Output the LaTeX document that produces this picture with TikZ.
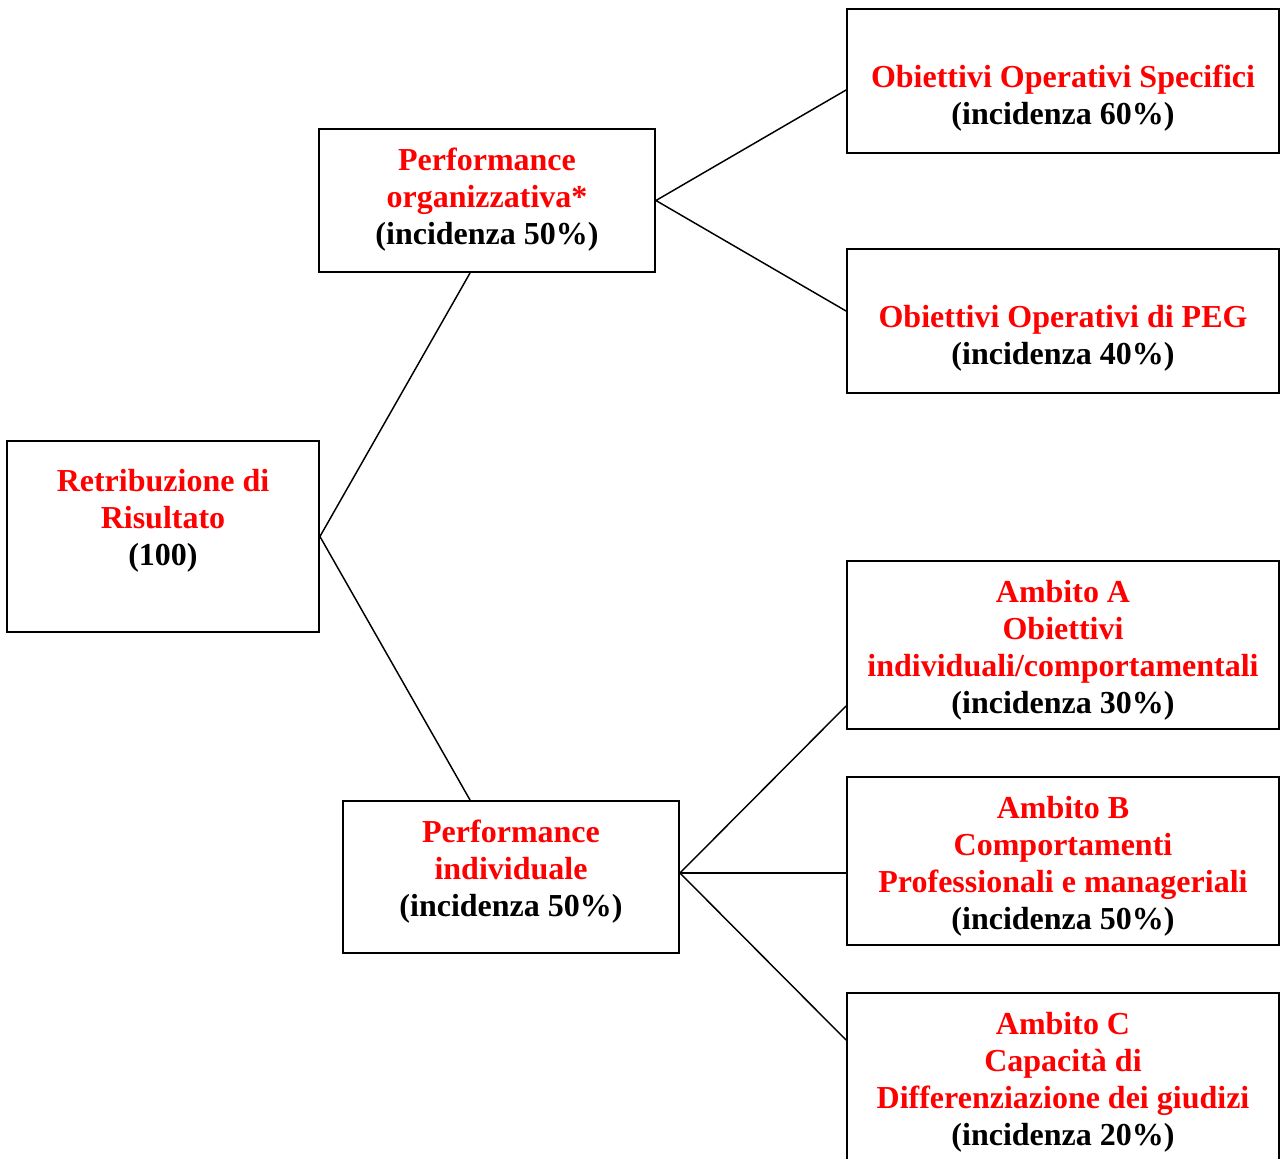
\documentclass[tikz,border=0pt]{standalone}
\usepackage{fontspec}
\setmainfont{Liberation Serif}
\usetikzlibrary{calc}
\definecolor{tred}{RGB}{255,0,0}
\begin{document}
\begin{tikzpicture}[x=0.75pt,y=-0.75pt,
 box/.style={draw,line width=1.4pt,inner sep=0pt},
 txt/.style={align=center,font=\fontsize{24}{27.75}\selectfont\bfseries,inner sep=0pt},
 link/.style={line width=1.1pt}]
\useasboundingbox (0,0) rectangle (1281,1158);
\clip (0,0) rectangle (1281,1158);
% boxes
\node[box,minimum width=234pt,minimum height=143.25pt] (root) at (163,536.5) {};
\node[box,minimum width=252pt,minimum height=107.25pt] (po) at (487,200.5) {};
\node[box,minimum width=252pt,minimum height=114pt] (pi) at (511,877) {};
\node[box,minimum width=324pt,minimum height=108pt] (oos) at (1063,81) {};
\node[box,minimum width=324pt,minimum height=108pt] (peg) at (1063,321) {};
\node[box,minimum width=324pt,minimum height=126pt] (ambA) at (1063,645) {};
\node[box,minimum width=324pt,minimum height=126pt] (ambB) at (1063,861) {};
\node[box,minimum width=324pt,minimum height=126pt] (ambC) at (1063,1077) {};
% texts
\node[txt] (rootT) at (163,521) {\textcolor{tred}{Retribuzione di}\\\textcolor{tred}{Risultato}\\(100)};
\node[txt] (poT) at (487,200) {\textcolor{tred}{Performance}\\\textcolor{tred}{organizzativa*}\\(incidenza 50\%)};
\node[txt] (piT) at (511,871.5) {\textcolor{tred}{Performance}\\\textcolor{tred}{individuale}\\(incidenza 50\%)};
\node[txt] (oosT) at (1063,98) {\textcolor{tred}{Obiettivi Operativi Specifici}\\(incidenza 60\%)};
\node[txt] (pegT) at (1063,338) {\textcolor{tred}{Obiettivi Operativi di PEG}\\(incidenza 40\%)};
\node[txt] (ambAT) at (1063,650) {\textcolor{tred}{Ambito A}\\\textcolor{tred}{Obiettivi}\\\textcolor{tred}{individuali/comportamentali}\\(incidenza 30\%)};
\node[txt] (ambBT) at (1063,866) {\textcolor{tred}{Ambito B}\\\textcolor{tred}{Comportamenti}\\\textcolor{tred}{Professionali e manageriali}\\(incidenza 50\%)};
\node[txt] (ambCT) at (1063,1082) {\textcolor{tred}{Ambito C}\\\textcolor{tred}{Capacità di}\\\textcolor{tred}{Differenziazione dei giudizi}\\(incidenza 20\%)};
% connectors
\draw[link] ($(po.south west)+(152,0)$) -- (root.east) -- ($(pi.north west)+(128,0)$);
\draw[link] ($(oos.west)+(0,9)$) -- (po.east) -- ($(peg.west)+(0,-10)$);
\coordinate (pifan) at ($(pi.east)+(0,-4)$);
\draw[link] (pifan) -- ($(ambA.west)+(0,61)$);
\draw[link] (pifan) -- ($(ambB.west)+(0,12)$);
\draw[link] (pifan) -- ($(ambC.west)+(0,-37)$);
\end{tikzpicture}
\end{document}
